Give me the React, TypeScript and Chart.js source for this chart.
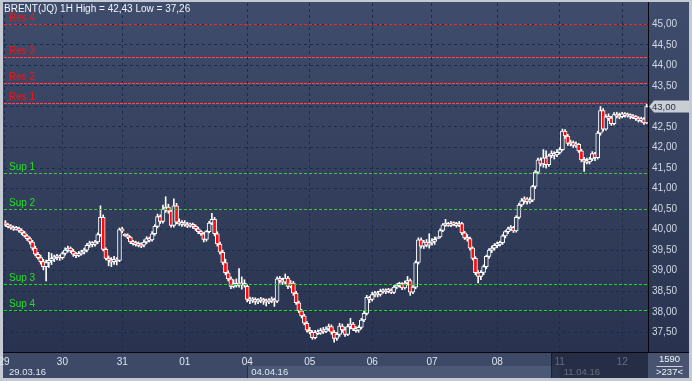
import React, { useEffect, useRef } from 'react';
import { Chart, registerables } from 'chart.js';

Chart.register(...registerables);

const FONT = '"Liberation Sans", Arial, sans-serif';

const title = 'BRENT(JQ) 1H High = 42,43 Low = 37,26';
const dayLabels = ['29', '30', '31', '01', '04', '05', '06', '07', '08', '11', '12'];
const dayCounts = [21, 22, 23, 23, 23, 23, 22, 24, 23, 23, 10];
const weekLabels = ['29.03.16', '04.04.16', '11.04.16'];
const weekStartDay = [0, 4, 9];
const yTicks = [37.5, 38, 38.5, 39, 39.5, 40, 40.5, 41, 41.5, 42, 42.5, 43, 43.5, 44, 44.5, 45];
const yAxisMin = 37.02;
const yAxisMax = 45.52;
const resLabels = ['Res 4', 'Res 3', 'Res 2', 'Res 1'];
const resValues = [45.0, 44.2, 43.57, 43.08];
const supLabels = ['Sup 1', 'Sup 2', 'Sup 3', 'Sup 4'];
const supValues = [41.37, 40.5, 38.68, 38.05];
const lastPrice = 43.0;
const barsTotal = '1590';
const barsVisible = '>237<';

const opens = [
  40.16,40.12,40.08,40.05,40.02,40.04,39.98,39.92,39.85,39.78,39.70,39.55,39.40,39.32,39.22,39.10,39.20,39.25,39.30,39.33,39.35,
  39.32,39.42,39.50,39.55,39.48,39.40,39.38,39.42,39.45,39.50,39.62,39.68,39.64,39.70,39.88,40.30,39.52,39.30,39.25,39.22,39.28,39.25,
  40.02,39.88,39.86,39.82,39.70,39.67,39.65,39.63,39.62,39.70,39.78,39.75,39.90,40.08,40.32,40.20,40.50,40.55,40.45,40.10,40.58,40.18,40.15,
  40.16,40.12,40.10,40.13,40.08,40.02,39.95,39.90,39.76,39.95,40.16,40.25,39.90,39.65,39.45,39.20,38.95,38.80,38.62,38.68,38.65,38.70,38.66,
  38.62,38.30,38.28,38.30,38.25,38.28,38.30,38.27,38.25,38.28,38.30,38.26,38.80,38.78,38.72,38.82,38.62,38.70,38.45,38.22,38.02,37.90,37.72,
  37.55,37.50,37.37,37.50,37.48,37.55,37.52,37.58,37.64,37.50,37.35,37.45,37.65,37.56,37.45,37.64,37.70,37.58,37.55,37.62,37.80,37.96,38.35,
  38.30,38.42,38.45,38.42,38.50,38.52,38.50,38.53,38.47,38.60,38.65,38.68,38.58,38.70,38.76,38.48,38.60,39.20,39.75,39.60,39.70,39.62,
  39.68,39.72,39.80,39.82,39.98,40.12,40.15,40.11,40.15,40.14,40.10,40.15,39.92,39.80,39.78,39.55,39.30,38.95,38.86,38.96,39.10,39.35,39.50,39.55,
  39.62,39.65,39.68,39.85,39.95,40.02,40.05,39.97,40.30,40.60,40.70,40.75,40.68,40.72,41.05,41.40,41.70,41.60,41.75,41.58,41.80,41.85,41.82,
  41.88,41.95,42.40,42.28,42.10,42.12,42.05,42.08,41.92,41.70,41.68,41.65,41.72,41.85,41.75,42.35,42.90,42.45,42.75,42.72,42.58,42.80,42.78,
  42.75,42.82,42.78,42.80,42.76,42.74,42.72,42.66,42.70,42.60,
];
const highs = [
  40.22,40.15,40.12,40.09,40.08,40.06,40.02,39.96,39.88,39.82,39.74,39.60,39.45,39.38,39.28,39.26,39.45,39.42,39.38,39.40,39.38,
  39.46,39.56,39.60,39.58,39.52,39.45,39.47,39.50,39.55,39.66,39.72,39.71,39.74,39.92,40.58,40.36,39.56,39.36,39.32,39.35,39.32,40.04,
  40.06,39.90,39.90,39.84,39.74,39.72,39.70,39.68,39.75,39.83,39.82,39.95,40.12,40.38,40.36,40.60,40.80,40.62,40.50,40.75,40.64,40.26,40.22,
  40.22,40.18,40.16,40.16,40.12,40.06,39.98,39.93,39.98,40.20,40.40,40.30,39.95,39.70,39.50,39.28,39.00,38.85,38.78,38.80,39.05,38.85,38.78,
  38.66,38.36,38.35,38.34,38.32,38.35,38.33,38.31,38.32,38.36,38.33,38.85,38.86,38.82,38.92,38.86,38.76,38.74,38.50,38.26,38.06,37.94,37.76,
  37.62,37.54,37.55,37.56,37.60,37.62,37.63,37.70,37.68,37.55,37.50,37.72,37.70,37.62,37.70,37.84,37.74,37.64,37.66,37.84,38.02,38.40,38.38,
  38.48,38.50,38.50,38.55,38.56,38.56,38.57,38.56,38.64,38.68,38.72,38.71,38.75,38.86,38.80,38.64,39.24,39.80,39.80,39.74,39.76,39.90,
  39.78,39.82,39.81,40.02,40.15,40.25,40.18,40.20,40.19,40.18,40.20,40.18,39.96,39.88,39.82,39.58,39.34,39.00,39.00,39.14,39.38,39.54,39.60,39.66,
  39.70,39.72,39.88,39.98,40.06,40.10,40.08,40.34,40.64,40.76,40.80,40.78,40.78,41.08,41.44,41.74,41.75,41.95,41.92,41.84,41.92,41.90,41.95,
  42.00,42.45,42.44,42.32,42.18,42.16,42.14,42.10,41.96,41.76,41.74,41.76,41.90,41.88,42.40,43.00,42.95,42.80,42.82,42.76,42.85,42.86,42.84,
  42.86,42.85,42.84,42.82,42.80,42.78,42.75,42.74,42.73,43.05,
];
const lows = [
  40.08,40.04,40.01,39.98,39.99,39.94,39.88,39.82,39.74,39.65,39.50,39.36,39.28,39.16,39.02,38.75,39.08,39.15,39.22,39.26,39.25,
  39.28,39.38,39.45,39.44,39.35,39.32,39.34,39.38,39.41,39.46,39.57,39.58,39.60,39.66,39.84,39.48,39.26,39.12,39.10,39.15,39.14,39.22,
  39.92,39.84,39.78,39.66,39.62,39.60,39.58,39.56,39.58,39.66,39.70,39.72,39.86,40.04,40.15,40.16,40.42,40.40,40.06,40.06,40.14,40.10,40.08,
  40.08,40.05,40.06,40.03,39.98,39.90,39.86,39.70,39.72,39.92,40.12,39.85,39.60,39.40,39.15,38.90,38.75,38.56,38.58,38.60,38.60,38.55,38.60,
  38.24,38.20,38.22,38.18,38.20,38.22,38.18,38.14,38.20,38.22,38.13,38.22,38.70,38.66,38.68,38.56,38.58,38.40,38.18,37.98,37.85,37.68,37.50,
  37.46,37.33,37.34,37.44,37.45,37.47,37.49,37.54,37.45,37.26,37.30,37.40,37.50,37.40,37.42,37.58,37.54,37.50,37.50,37.58,37.76,37.92,38.22,
  38.26,38.36,38.36,38.38,38.45,38.44,38.46,38.44,38.44,38.56,38.60,38.54,38.55,38.65,38.40,38.44,38.56,39.16,39.55,39.54,39.58,39.55,
  39.62,39.64,39.79,39.80,39.95,40.08,40.08,40.07,40.10,40.06,40.07,39.88,39.76,39.72,39.50,39.26,38.90,38.70,38.78,38.90,39.05,39.30,39.44,39.50,
  39.56,39.60,39.64,39.80,39.90,39.98,39.93,39.94,40.26,40.56,40.64,40.62,40.64,40.68,41.00,41.36,41.55,41.52,41.50,41.54,41.75,41.72,41.78,
  41.84,41.92,42.22,42.05,42.04,42.00,42.00,41.88,41.65,41.42,41.60,41.60,41.68,41.68,41.72,42.30,42.40,42.42,42.66,42.54,42.55,42.72,42.70,
  42.72,42.74,42.74,42.70,42.70,42.66,42.62,42.62,42.56,42.58,
];
const closes = [
  40.12,40.08,40.05,40.02,40.04,39.98,39.92,39.85,39.78,39.70,39.55,39.40,39.32,39.22,39.10,39.20,39.25,39.30,39.33,39.35,39.32,
  39.42,39.50,39.55,39.48,39.40,39.38,39.42,39.45,39.50,39.62,39.68,39.64,39.70,39.88,40.30,39.52,39.30,39.25,39.22,39.28,39.25,40.00,
  39.96,39.86,39.82,39.70,39.67,39.65,39.63,39.62,39.70,39.78,39.75,39.90,40.08,40.32,40.20,40.50,40.55,40.45,40.10,40.58,40.18,40.15,40.16,
  40.12,40.10,40.13,40.08,40.02,39.95,39.90,39.76,39.95,40.16,40.25,39.90,39.65,39.45,39.20,38.95,38.80,38.62,38.68,38.65,38.70,38.66,38.68,
  38.30,38.28,38.30,38.25,38.28,38.30,38.27,38.25,38.28,38.30,38.26,38.80,38.78,38.72,38.82,38.62,38.70,38.45,38.22,38.02,37.90,37.72,37.55,
  37.50,37.37,37.50,37.48,37.55,37.52,37.58,37.64,37.50,37.35,37.45,37.65,37.56,37.45,37.64,37.70,37.58,37.55,37.62,37.80,37.96,38.35,38.30,
  38.42,38.45,38.42,38.50,38.52,38.50,38.53,38.47,38.60,38.65,38.68,38.58,38.70,38.76,38.48,38.60,39.20,39.75,39.60,39.70,39.62,39.68,
  39.72,39.76,39.80,39.98,40.12,40.15,40.11,40.15,40.14,40.10,40.15,39.92,39.80,39.78,39.55,39.30,38.95,38.86,38.96,39.10,39.35,39.50,39.55,39.62,
  39.65,39.68,39.85,39.95,40.02,40.05,39.97,40.30,40.60,40.70,40.75,40.68,40.72,41.05,41.40,41.70,41.60,41.75,41.58,41.80,41.85,41.82,41.88,
  41.95,42.40,42.28,42.10,42.12,42.05,42.08,41.92,41.70,41.68,41.65,41.72,41.85,41.75,42.35,42.90,42.45,42.75,42.72,42.58,42.80,42.78,42.75,
  42.82,42.78,42.80,42.76,42.74,42.72,42.66,42.70,42.60,43.00,
];

const total = closes.length;
const dayStarts = dayCounts.map((_, d) =>
  d === 0 ? -0.5 : dayCounts.slice(0, d).reduce((a, b) => a + b, 0)
);
const fmt = (v: number) => v.toFixed(2).replace('.', ',');

const RED = '#ff0a0a';
const HOLLOW = '#33405d';

const decorPlugin = {
  id: 'decor',
  beforeDraw(chart: any) {
    const { ctx, width, height, chartArea: ca } = chart;
    const xs = chart.scales.x;
    ctx.save();
    ctx.fillStyle = '#c4cad4';
    ctx.fillRect(0, 0, width, height);
    const g = ctx.createLinearGradient(0, 2, 0, ca.bottom);
    g.addColorStop(0, '#3f4c6b');
    g.addColorStop(1, '#29334f');
    ctx.fillStyle = g;
    ctx.fillRect(3, 2, width - 6, ca.bottom - 2);
    ctx.fillStyle = '#3d4967';
    ctx.fillRect(3, ca.bottom, ca.right - 3, height - 3 - ca.bottom);
    const wk = xs.getPixelForValue(dayStarts[weekStartDay[1]]);
    const wk2 = xs.getPixelForValue(dayStarts[weekStartDay[2]]);
    ctx.fillStyle = '#4b5876';
    ctx.fillRect(wk, 366, wk2 - wk, height - 3 - 366);
    ctx.fillStyle = '#27304a';
    ctx.fillRect(Math.round(wk), 366, 1, height - 3 - 366);
    ctx.fillStyle = '#47536f';
    ctx.fillRect(ca.right, ca.bottom, width - 3 - ca.right, height - 3 - ca.bottom);
    ctx.restore();
  },
  afterDatasetsDraw(chart: any) {
    const { ctx, chartArea: ca } = chart;
    const ys = chart.scales.y;
    ctx.save();
    const level = (v: number, label: string, color: string, dash: number[], lc: string) => {
      const py = Math.round(ys.getPixelForValue(v)) + 0.5;
      ctx.strokeStyle = color;
      ctx.lineWidth = 1;
      ctx.setLineDash(dash);
      ctx.beginPath();
      ctx.moveTo(ca.left, py);
      ctx.lineTo(ca.right, py);
      ctx.stroke();
      ctx.setLineDash([]);
      ctx.fillStyle = lc;
      ctx.font = `10px ${FONT}`;
      ctx.textBaseline = 'alphabetic';
      ctx.textAlign = 'left';
      ctx.fillText(label, 9, py - 4);
    };
    resValues.forEach((v, i) =>
      level(v, resLabels[i], i === 0 ? '#ff2020' : '#ff4656', i === 0 ? [3, 2] : [3, 1], '#ff1010')
    );
    supValues.forEach((v, i) =>
      level(v, supLabels[i], i < 2 ? '#46c046' : '#18dc18', [3, 2], '#22e022')
    );
    ctx.restore();
  },
  afterDraw(chart: any) {
    const { ctx, width, height, chartArea: ca } = chart;
    const xs = chart.scales.x;
    const ys = chart.scales.y;
    ctx.save();
    ctx.fillStyle = '#05070c';
    ctx.fillRect(ca.right, 2, 1, ca.bottom - 2);
    ctx.fillRect(3, ca.bottom, width - 6, 1);
    ctx.font = `9.5px ${FONT}`;
    ctx.textBaseline = 'middle';
    ctx.textAlign = 'left';
    ctx.fillStyle = '#dfe5f0';
    weekLabels.forEach((t, i) => {
      const d = weekStartDay[i];
      const px = i === 0 ? 9 : xs.getPixelForValue(dayStarts[d]) + 4;
      ctx.fillText(t, px, 372);
    });
    ctx.fillStyle = 'rgba(24,31,51,0.62)';
    ctx.fillRect(551, ca.bottom + 1, ca.right - 551, height - 3 - ca.bottom - 1);
    ctx.fillStyle = 'rgba(10,14,24,0.5)';
    ctx.fillRect(551, ca.bottom + 1, 1, height - 3 - ca.bottom - 1);
    const cx = (ca.right + width - 3) / 2 + 1;
    ctx.textAlign = 'center';
    ctx.fillStyle = '#eef2f8';
    ctx.fillText(barsTotal, cx, 359.5);
    ctx.fillStyle = '#c9d0dc';
    ctx.fillRect(cx - 13, 366, 26, 1);
    ctx.fillStyle = '#eef2f8';
    ctx.fillText(barsVisible, cx, 372.5);
    const py = Math.round(ys.getPixelForValue(lastPrice));
    ctx.fillStyle = '#c9cdd5';
    ctx.beginPath();
    ctx.moveTo(ca.right + 1, py + 0.5);
    ctx.lineTo(ca.right + 6, py - 5.5);
    ctx.lineTo(width - 3, py - 5.5);
    ctx.lineTo(width - 3, py + 6.5);
    ctx.lineTo(ca.right + 6, py + 6.5);
    ctx.closePath();
    ctx.fill();
    ctx.fillStyle = '#2c3447';
    ctx.textAlign = 'left';
    ctx.fillText(fmt(lastPrice), ca.right + 4, py + 1);
    ctx.fillStyle = '#f2f5fa';
    ctx.font = `10px ${FONT}`;
    ctx.fillText(title, 4, 9);
    ctx.restore();
  },
};

export default function App() {
  const ref = useRef<HTMLCanvasElement>(null);
  useEffect(() => {
    const idx = closes.map((_, i) => i);
    const wickData = idx.map((i) => ({ x: i, y: [lows[i], highs[i]] }));
    const bodyData = idx.map((i) => {
      const lo = Math.min(opens[i], closes[i]);
      const hi = Math.max(opens[i], closes[i]);
      const pad = Math.max(0, (0.05 - (hi - lo)) / 2);
      return { x: i, y: [lo - pad, hi + pad] };
    });
    const bodyColors = idx.map((i) => (closes[i] < opens[i] ? RED : HOLLOW));

    const chart = new Chart(ref.current as HTMLCanvasElement, {
      type: 'bar',
      data: {
        datasets: [
          {
            data: bodyData as any,
            backgroundColor: bodyColors,
            borderColor: '#ffffff',
            borderWidth: 1,
            borderSkipped: false,
            barThickness: 4,
            grouped: false,
            order: 1,
          } as any,
          {
            data: wickData as any,
            backgroundColor: '#ffffff',
            borderWidth: 0,
            barThickness: 1,
            grouped: false,
            order: 2,
          } as any,
        ],
      },
      options: {
        animation: false,
        responsive: true,
        maintainAspectRatio: false,
        layout: { padding: { left: 4, top: 3, right: 0, bottom: 0 } },
        plugins: { legend: { display: false }, tooltip: { enabled: false } },
        scales: {
          x: {
            type: 'linear',
            min: -0.5,
            max: total - 0.5,
            offset: false,
            grid: { color: '#1b2c4e', drawTicks: false, offset: false, lineWidth: 1 },
            border: { display: false, dash: [3, 3] },
            ticks: {
              autoSkip: false,
              maxRotation: 0,
              padding: 4,
              color: '#dfe5f0',
              font: { family: FONT, size: 10 },
              callback: (_v: any, i: number) => dayLabels[i] ?? '',
            },
            afterBuildTicks: (s: any) => {
              s.ticks = dayStarts.map((v) => ({ value: v }));
            },
            afterFit: (s: any) => {
              s.height = 29;
              s.paddingLeft = 0;
              s.paddingRight = 0;
            },
          } as any,
          y: {
            type: 'linear',
            position: 'right',
            min: yAxisMin,
            max: yAxisMax,
            grid: { color: '#1b2c4e', drawTicks: false, lineWidth: 1 },
            border: { display: false, dash: [3, 3] },
            ticks: {
              padding: 4,
              color: (c: any) => (c.tick && c.tick.value === lastPrice ? 'rgba(0,0,0,0)' : '#d0d8e6'),
              font: { family: FONT, size: 10 },
              callback: (v: any) => fmt(Number(v)),
            },
            afterBuildTicks: (s: any) => {
              s.ticks = yTicks.map((v) => ({ value: v }));
            },
            afterFit: (s: any) => {
              s.width = 44;
              s.paddingTop = 0;
              s.paddingBottom = 0;
            },
          } as any,
        },
      },
      plugins: [decorPlugin],
    });
    return () => chart.destroy();
  }, []);
  return (
    <div style={{ position: 'fixed', left: 0, top: 0, width: 692, height: 381 }}>
      <canvas ref={ref} />
    </div>
  );
}
